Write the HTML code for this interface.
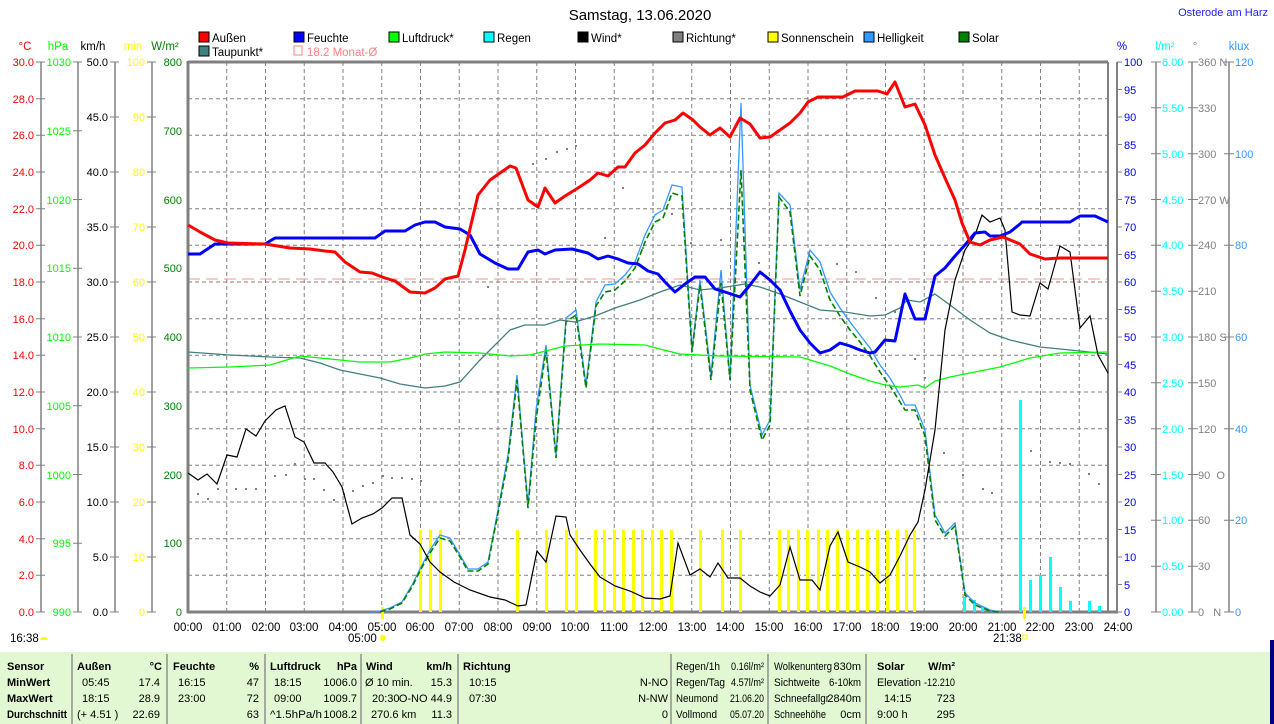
<!DOCTYPE html>
<html><head><meta charset="utf-8"><style>
body{margin:0;background:#fff;width:1274px;height:724px;overflow:hidden;font-family:"Liberation Sans",sans-serif}
svg{position:absolute;left:0;top:0}
</style></head><body>
<svg width="1274" height="724" viewBox="0 0 1274 724" font-family="Liberation Sans, sans-serif" font-size="11">
<text x="640" y="20" font-size="15" text-anchor="middle" fill="#000">Samstag, 13.06.2020</text>
<text x="1268" y="16" font-size="11" text-anchor="end" fill="#2020ff">Osterode am Harz</text>
<!-- legend -->
<g font-size="11.5">
<rect x="199" y="32" width="10" height="10" fill="#f00" stroke="#000"/><text x="212" y="42">Außen</text>
<rect x="294" y="32" width="10" height="10" fill="#00f" stroke="#000"/><text x="307" y="42">Feuchte</text>
<rect x="389" y="32" width="10" height="10" fill="#0f0" stroke="#000"/><text x="402" y="42">Luftdruck*</text>
<rect x="484" y="32" width="10" height="10" fill="#0ff" stroke="#000"/><text x="497" y="42">Regen</text>
<rect x="578" y="32" width="10" height="10" fill="#000" stroke="#000"/><text x="591" y="42">Wind*</text>
<rect x="673" y="32" width="10" height="10" fill="#808080" stroke="#000"/><text x="686" y="42">Richtung*</text>
<rect x="768" y="32" width="10" height="10" fill="#ff0" stroke="#000"/><text x="781" y="42">Sonnenschein</text>
<rect x="864" y="32" width="10" height="10" fill="#3399ff" stroke="#000"/><text x="877" y="42">Helligkeit</text>
<rect x="959" y="32" width="10" height="10" fill="#008000" stroke="#000"/><text x="972" y="42">Solar</text>
<rect x="199" y="46" width="10" height="10" fill="#408080" stroke="#000"/><text x="212" y="56">Taupunkt*</text>
<rect x="294" y="46" width="8" height="9" fill="none" stroke="#ff8080"/><text x="307" y="56" fill="#ff8080">18.2 Monat-Ø</text>
</g>
<!-- axis titles -->
<g font-size="11.5" text-anchor="middle">
<text x="25" y="50" fill="#f00">°C</text><text x="58" y="50" fill="#0f0">hPa</text><text x="93" y="50">km/h</text>
<text x="133" y="50" fill="#ff0">min</text><text x="165" y="50" fill="#008000">W/m²</text>
<text x="1122" y="50" fill="#00f">%</text><text x="1165" y="50" fill="#0ff">l/m²</text><text x="1195" y="50" fill="#808080">°</text><text x="1239" y="50" fill="#3399ff">klux</text>
</g>
<!-- grid -->
<g stroke="#808080" stroke-dasharray="4,3" stroke-width="1">
<path d="M226.75 62V612M265.5 62V612M304.25 62V612M343 62V612M381.75 62V612M420.5 62V612M459.25 62V612M498 62V612M536.75 62V612M575.5 62V612M614.25 62V612M653 62V612M691.75 62V612M730.5 62V612M769.25 62V612M808 62V612M846.75 62V612M885.5 62V612M924.25 62V612M963 62V612M1001.75 62V612M1040.5 62V612M1079.25 62V612"/>
<path d="M188 98.7H1108M188 135.3H1108M188 172H1108M188 208.7H1108M188 245.3H1108M188 282H1108M188 318.7H1108M188 355.3H1108M188 392H1108M188 428.7H1108M188 465.3H1108M188 502H1108M188 538.7H1108M188 575.3H1108"/>
</g>
<path d="M188 279H1108" stroke="#ff9090" stroke-dasharray="12,6"/>
<!-- axes lines -->
<g stroke="#808080" fill="none">
<path d="M188 61V613M187 612H1118M188 62H1108" stroke-width="3"/>
<path d="M1108 62V612" stroke-width="2"/>
<path d="M1117 62V612" stroke-width="2"/>
<path d="M41 62V612M78 62V612M115 62V612M152 62V612M1156 62V612M1192 62V612M1229 62V612" stroke-width="1.5"/>
</g>
<!-- left ticks -->
<g fill="#f00" text-anchor="end">
<text x="34" y="616">0.0</text><text x="34" y="579">2.0</text><text x="34" y="543">4.0</text><text x="34" y="506">6.0</text><text x="34" y="469">8.0</text><text x="34" y="433">10.0</text><text x="34" y="396">12.0</text><text x="34" y="359">14.0</text><text x="34" y="323">16.0</text><text x="34" y="286">18.0</text><text x="34" y="249">20.0</text><text x="34" y="213">22.0</text><text x="34" y="176">24.0</text><text x="34" y="139">26.0</text><text x="34" y="103">28.0</text><text x="34" y="66">30.0</text>
</g>
<path stroke="#808080" d="M36 612h9M36 575.3h9M36 538.7h9M36 502h9M36 465.3h9M36 428.7h9M36 392h9M36 355.3h9M36 318.7h9M36 282h9M36 245.3h9M36 208.7h9M36 172h9M36 135.3h9M36 98.7h9M36 62h9"/>
<g fill="#0f0" text-anchor="end">
<text x="71" y="616">990</text><text x="71" y="547">995</text><text x="71" y="479">1000</text><text x="71" y="410">1005</text><text x="71" y="341">1010</text><text x="71" y="272">1015</text><text x="71" y="204">1020</text><text x="71" y="135">1025</text><text x="71" y="66">1030</text>
</g>
<path stroke="#808080" d="M73 612h9M73 543.25h9M73 474.5h9M73 405.75h9M73 337h9M73 268.25h9M73 199.5h9M73 130.75h9M73 62h9"/>
<g fill="#000" text-anchor="end">
<text x="108" y="616">0.0</text><text x="108" y="561">5.0</text><text x="108" y="506">10.0</text><text x="108" y="451">15.0</text><text x="108" y="396">20.0</text><text x="108" y="341">25.0</text><text x="108" y="286">30.0</text><text x="108" y="231">35.0</text><text x="108" y="176">40.0</text><text x="108" y="121">45.0</text><text x="108" y="66">50.0</text>
</g>
<path stroke="#808080" d="M110 612h9M110 557h9M110 502h9M110 447h9M110 392h9M110 337h9M110 282h9M110 227h9M110 172h9M110 117h9M110 62h9M147 612h9M147 557h9M147 502h9M147 447h9M147 392h9M147 337h9M147 282h9M147 227h9M147 172h9M147 117h9M147 62h9"/>
<g fill="#ff0" text-anchor="end">
<text x="145" y="616">0</text><text x="145" y="561">10</text><text x="145" y="506">20</text><text x="145" y="451">30</text><text x="145" y="396">40</text><text x="145" y="341">50</text><text x="145" y="286">60</text><text x="145" y="231">70</text><text x="145" y="176">80</text><text x="145" y="121">90</text><text x="145" y="66">100</text>
</g>
<g fill="#008000" text-anchor="end">
<text x="182" y="616">0</text><text x="182" y="547">100</text><text x="182" y="479">200</text><text x="182" y="410">300</text><text x="182" y="341">400</text><text x="182" y="272">500</text><text x="182" y="204">600</text><text x="182" y="135">700</text><text x="182" y="66">800</text>
</g>
<!-- right ticks -->
<g fill="#00f">
<text x="1124" y="616">0</text><text x="1124" y="589">5</text><text x="1124" y="561">10</text><text x="1124" y="534">15</text><text x="1124" y="506">20</text><text x="1124" y="479">25</text><text x="1124" y="451">30</text><text x="1124" y="424">35</text><text x="1124" y="396">40</text><text x="1124" y="369">45</text><text x="1124" y="341">50</text><text x="1124" y="314">55</text><text x="1124" y="286">60</text><text x="1124" y="259">65</text><text x="1124" y="231">70</text><text x="1124" y="204">75</text><text x="1124" y="176">80</text><text x="1124" y="149">85</text><text x="1124" y="121">90</text><text x="1124" y="94">95</text><text x="1124" y="66">100</text>
</g>
<path stroke="#808080" d="M1117 612h5M1117 584.5h5M1117 557h5M1117 529.5h5M1117 502h5M1117 474.5h5M1117 447h5M1117 419.5h5M1117 392h5M1117 364.5h5M1117 337h5M1117 309.5h5M1117 282h5M1117 254.5h5M1117 227h5M1117 199.5h5M1117 172h5M1117 144.5h5M1117 117h5M1117 89.5h5M1117 62h5"/>
<g fill="#0ff">
<text x="1162" y="616">0.00</text><text x="1162" y="570">0.50</text><text x="1162" y="524">1.00</text><text x="1162" y="479">1.50</text><text x="1162" y="433">2.00</text><text x="1162" y="387">2.50</text><text x="1162" y="341">3.00</text><text x="1162" y="295">3.50</text><text x="1162" y="249">4.00</text><text x="1162" y="204">4.50</text><text x="1162" y="158">5.00</text><text x="1162" y="112">5.50</text><text x="1162" y="66">6.00</text>
</g>
<path stroke="#808080" d="M1151 612h10M1151 566.2h10M1151 520.3h10M1151 474.5h10M1151 428.7h10M1151 382.8h10M1151 337h10M1151 291.2h10M1151 245.3h10M1151 199.5h10M1151 153.7h10M1151 107.8h10M1151 62h10M1188 612h10M1188 566.2h10M1188 520.3h10M1188 474.5h10M1188 428.7h10M1188 382.8h10M1188 337h10M1188 291.2h10M1188 245.3h10M1188 199.5h10M1188 153.7h10M1188 107.8h10M1188 62h10M1224 612h10M1224 520.3h10M1224 428.7h10M1224 337h10M1224 245.3h10M1224 153.7h10M1224 62h10"/>
<g fill="#808080">
<text x="1198" y="616">0 &#160;&#160;N</text><text x="1198" y="570">30</text><text x="1198" y="524">60</text><text x="1198" y="479">90 &#160;O</text><text x="1198" y="433">120</text><text x="1198" y="387">150</text><text x="1198" y="341">180 S</text><text x="1198" y="295">210</text><text x="1198" y="249">240</text><text x="1198" y="204">270 W</text><text x="1198" y="158">300</text><text x="1198" y="112">330</text><text x="1198" y="66">360 N</text>
</g>
<g fill="#3399ff">
<text x="1235" y="616">0</text><text x="1235" y="524">20</text><text x="1235" y="433">40</text><text x="1235" y="341">60</text><text x="1235" y="249">80</text><text x="1235" y="158">100</text><text x="1235" y="66">120</text>
</g>
<!-- x labels -->
<g text-anchor="middle" font-size="11.5">
<text x="188" y="631">00:00</text><text x="227" y="631">01:00</text><text x="266" y="631">02:00</text><text x="304" y="631">03:00</text><text x="343" y="631">04:00</text><text x="382" y="631">05:00</text><text x="420" y="631">06:00</text><text x="459" y="631">07:00</text><text x="498" y="631">08:00</text><text x="537" y="631">09:00</text><text x="575" y="631">10:00</text><text x="614" y="631">11:00</text><text x="653" y="631">12:00</text><text x="692" y="631">13:00</text><text x="730" y="631">14:00</text><text x="769" y="631">15:00</text><text x="808" y="631">16:00</text><text x="847" y="631">17:00</text><text x="885" y="631">18:00</text><text x="924" y="631">19:00</text><text x="963" y="631">20:00</text><text x="1002" y="631">21:00</text><text x="1040" y="631">22:00</text><text x="1079" y="631">23:00</text><text x="1118" y="631">24:00</text>
</g>
<text x="10" y="642" font-size="11.5">16:38</text><path d="M40 640a4 3 0 0 1 8 0z" fill="#ff0"/>
<text x="348" y="642" font-size="11.5">05:00</text><circle cx="383" cy="638" r="3" fill="#ff0"/>
<text x="993" y="642" font-size="11.5">21:38</text><rect x="1023" y="635" width="4" height="4" fill="none" stroke="#ff0"/>
<!-- rain bars -->
<g fill="#0ff">
<rect x="963" y="597" width="3" height="15"/><rect x="973" y="600" width="3" height="12"/><rect x="981" y="607" width="3" height="5"/>
<rect x="1019" y="400" width="3" height="212"/><rect x="1029" y="580" width="3" height="32"/><rect x="1039" y="575" width="3" height="37"/><rect x="1049" y="557" width="3" height="55"/><rect x="1059" y="587" width="3" height="25"/><rect x="1069" y="601" width="3" height="11"/><rect x="1088" y="601" width="3" height="11"/><rect x="1098" y="606" width="3" height="6"/>
</g>
<!-- sunshine bars -->
<g fill="#ff0">
<rect x="419" y="530" width="3" height="82"/><rect x="429" y="530" width="3" height="82"/><rect x="439" y="530" width="3" height="82"/><rect x="516" y="530" width="3" height="82"/><rect x="545" y="530" width="3" height="82"/><rect x="565" y="530" width="3" height="82"/><rect x="575" y="530" width="3" height="82"/><rect x="594" y="530" width="3" height="82"/><rect x="603" y="530" width="3" height="82"/><rect x="613" y="530" width="3" height="82"/><rect x="622" y="530" width="3" height="82"/><rect x="632" y="530" width="3" height="82"/><rect x="641" y="530" width="3" height="82"/><rect x="651" y="530" width="3" height="82"/><rect x="660" y="530" width="3" height="82"/><rect x="670" y="530" width="3" height="82"/><rect x="699" y="530" width="3" height="82"/><rect x="721" y="530" width="3" height="82"/><rect x="739" y="530" width="3" height="82"/><rect x="778" y="530" width="3" height="82"/><rect x="787" y="530" width="3" height="82"/><rect x="797" y="530" width="3" height="82"/><rect x="806" y="530" width="3" height="82"/><rect x="817" y="530" width="3" height="82"/><rect x="826" y="530" width="3" height="82"/><rect x="836" y="530" width="3" height="82"/><rect x="846" y="530" width="3" height="82"/><rect x="856" y="530" width="3" height="82"/><rect x="866" y="530" width="3" height="82"/><rect x="876" y="530" width="3" height="82"/><rect x="886" y="530" width="3" height="82"/><rect x="896" y="530" width="3" height="82"/><rect x="905" y="530" width="3" height="82"/><rect x="913" y="530" width="3" height="82"/>
<rect x="381" y="607" width="3" height="12"/><rect x="1023" y="607" width="3" height="12"/>
</g>
<!-- Richtung dots -->
<g fill="#808080">
<rect x="197" y="493" width="2" height="2"/><rect x="207" y="498" width="2" height="2"/><rect x="217" y="488" width="2" height="2"/><rect x="235" y="488" width="2" height="2"/><rect x="245" y="488" width="2" height="2"/><rect x="255" y="488" width="2" height="2"/><rect x="274" y="475" width="2" height="2"/><rect x="285" y="474" width="2" height="2"/><rect x="294" y="463" width="2" height="2"/><rect x="304" y="478" width="2" height="2"/><rect x="313" y="478" width="2" height="2"/><rect x="323" y="489" width="2" height="2"/><rect x="333" y="499" width="2" height="2"/><rect x="343" y="493" width="2" height="2"/><rect x="352" y="490" width="2" height="2"/><rect x="362" y="485" width="2" height="2"/><rect x="372" y="482" width="2" height="2"/><rect x="382" y="475" width="2" height="2"/><rect x="391" y="477" width="2" height="2"/><rect x="401" y="477" width="2" height="2"/><rect x="411" y="478" width="2" height="2"/><rect x="420" y="480" width="2" height="2"/>
<rect x="487" y="286" width="2" height="2"/><rect x="532" y="163" width="2" height="2"/><rect x="545" y="158" width="2" height="2"/><rect x="556" y="151" width="2" height="2"/><rect x="566" y="148" width="2" height="2"/><rect x="575" y="145" width="2" height="2"/><rect x="622" y="187" width="2" height="2"/><rect x="604" y="237" width="2" height="2"/><rect x="642" y="247" width="2" height="2"/><rect x="671" y="213" width="2" height="2"/><rect x="690" y="242" width="2" height="2"/><rect x="720" y="239" width="2" height="2"/><rect x="758" y="262" width="2" height="2"/><rect x="836" y="263" width="2" height="2"/><rect x="855" y="271" width="2" height="2"/><rect x="875" y="297" width="2" height="2"/><rect x="894" y="311" width="2" height="2"/><rect x="914" y="358" width="2" height="2"/><rect x="924" y="377" width="2" height="2"/><rect x="943" y="452" width="2" height="2"/><rect x="962" y="474" width="2" height="2"/><rect x="982" y="488" width="2" height="2"/><rect x="991" y="492" width="2" height="2"/><rect x="1030" y="450" width="2" height="2"/><rect x="1049" y="461" width="2" height="2"/><rect x="1059" y="462" width="2" height="2"/><rect x="1069" y="463" width="2" height="2"/><rect x="1088" y="473" width="2" height="2"/><rect x="1098" y="483" width="2" height="2"/>
</g>
<!-- Helligkeit & Solar -->
<polyline fill="none" stroke="#3399ff" stroke-width="1.3" points="370,612 380,611 390,608 402,602 412,585 421,567 430,550 440,535 450,538 460,555 468,569 478,569 488,562 498,510 508,455 517,375 528,505 536,410 546,345 556,455 566,318 576,310 586,385 596,302 605,285 615,284 625,275 635,262 645,235 655,215 663,210 672,185 682,187 692,350 700,280 711,375 721,270 730,380 741,103 750,385 762,435 770,420 779,193 790,205 800,290 810,250 820,262 830,292 840,308 850,322 860,335 870,348 880,365 890,378 900,395 905,405 915,405 925,430 935,515 945,533 955,523 965,593 975,603 990,610 1000,612"/>
<polyline fill="none" stroke="#008000" stroke-width="1.6" stroke-dasharray="6,3" points="380,612 390,609 402,603 412,587 421,569 430,553 440,538 450,541 460,557 468,571 478,571 488,564 498,513 508,460 517,380 528,508 536,420 546,350 556,458 566,322 576,315 586,388 596,306 605,292 615,290 625,281 635,268 645,242 655,222 663,218 672,193 682,196 692,352 700,285 711,380 721,283 730,380 741,170 750,390 762,440 770,425 779,197 790,212 800,296 810,256 820,270 830,300 840,316 850,330 860,342 870,356 880,372 890,386 900,402 905,410 915,410 925,436 935,520 945,536 955,526 965,595 975,605 990,611 1000,612"/>
<!-- Taupunkt -->
<polyline fill="none" stroke="#408080" stroke-width="1.3" points="188,352 230,355 270,357 300,358 320,363 340,370 360,374 380,378 400,384 425,388 445,386 460,382 480,360 495,345 510,330 525,325 545,325 560,320 575,322 595,316 615,308 640,300 660,292 680,285 700,290 720,288 745,284 760,287 780,294 800,302 820,310 845,312 870,316 885,315 900,308 907,300 920,302 935,294 950,305 970,320 990,333 1010,340 1040,347 1070,350 1108,354"/>
<!-- Luftdruck -->
<polyline fill="none" stroke="#00ff00" stroke-width="1.3" points="188,368 230,367 270,365 300,356 320,358 340,360 360,362 390,362 410,358 425,354 445,352 480,353 510,356 530,355 565,346 600,344 645,345 660,349 680,354 720,356 800,357 830,366 850,374 870,381 885,385 900,387 918,385 925,388 935,381 950,377 975,372 1000,367 1030,358 1060,353 1108,352"/>
<!-- Wind -->
<polyline fill="none" stroke="#000" stroke-width="1.2" points="188,473 198,480 207,474 217,484 227,455 237,457 246,429 256,436 265,421 276,410 285,406 295,437 304,442 314,463 325,463 333,472 342,487 352,524 362,518 373,514 382,508 392,498 402,498 410,535 420,544 430,562 440,572 454,582 470,590 490,597 505,600 518,606 526,605 537,551 546,562 556,516 566,517 570,535 580,550 590,564 600,577 615,586 630,591 645,598 660,599 670,596 678,543 690,575 700,569 710,577 718,563 728,578 740,578 750,586 760,592 770,596 780,585 790,547 800,580 812,580 820,590 830,546 838,532 848,562 860,567 870,572 880,583 890,575 900,556 910,535 918,522 925,490 935,430 945,330 955,280 965,250 975,235 982,215 990,222 1000,218 1005,230 1012,312 1020,315 1030,316 1040,283 1048,289 1055,264 1060,246 1070,252 1080,328 1090,316 1098,355 1108,373"/>
<!-- Feuchte -->
<polyline fill="none" stroke="#0000ff" stroke-width="3" stroke-linejoin="round" points="188,254 200,254 215,244 230,244 265,244 275,238 375,238 385,231 405,231 415,225 425,222 435,222 445,227 460,229 470,235 480,254 495,263 508,269 518,269 528,252 538,250 545,254 555,250 572,249 588,253 598,259 608,256 618,259 628,263 638,264 648,271 658,274 665,282 675,292 685,284 695,277 705,277 715,289 725,292 740,297 750,285 760,272 770,280 780,290 790,311 800,330 810,343 820,353 830,350 840,343 850,346 860,350 870,353 875,352 885,340 895,341 905,294 915,319 925,319 935,276 945,268 955,256 965,245 975,233 985,232 990,236 1000,236 1010,232 1020,224 1022,222 1070,222 1080,216 1095,216 1108,222"/>
<!-- Außen -->
<polyline fill="none" stroke="#ff0000" stroke-width="3" stroke-linejoin="round" points="188,225 200,232 215,240 228,243 265,244 290,248 310,249 325,251 335,252 345,262 360,272 372,273 385,278 395,281 410,292 425,293 435,288 445,279 458,276 465,250 478,195 490,180 500,173 510,166 516,168 528,200 538,207 545,188 555,203 565,196 578,188 590,180 598,173 608,176 618,167 625,167 635,153 645,145 655,133 665,123 675,120 683,113 693,120 700,127 710,135 720,128 730,137 740,118 750,124 760,138 770,137 780,130 790,123 800,113 808,102 818,97 843,97 855,91 878,91 887,94 895,82 905,107 915,104 925,125 935,155 945,178 955,200 962,223 970,242 980,245 990,240 1003,237 1020,244 1030,254 1045,259 1060,258 1108,258"/>
<!-- table -->
<rect x="0" y="652" width="1271" height="72" fill="#e2f8d2"/>
<rect x="1270" y="640" width="4" height="84" fill="#000080"/>
<g stroke="#909090" stroke-width="1.5"><path d="M72 654V724M167 654V724M265 654V724M361 654V724M458 654V724M671 654V724M768 654V724M866 654V724"/></g>
<g font-size="11" fill="#000">
<g font-weight="bold"><text x="7" y="670">Sensor</text><text x="7" y="686">MinWert</text><text x="7" y="702">MaxWert</text><text x="7" y="718" textLength="60" lengthAdjust="spacingAndGlyphs">Durchschnitt</text>
<text x="77" y="670">Außen</text><text x="162" y="670" text-anchor="end">°C</text><text x="173" y="670">Feuchte</text><text x="259" y="670" text-anchor="end">%</text><text x="270" y="670">Luftdruck</text><text x="357" y="670" text-anchor="end">hPa</text><text x="366" y="670">Wind</text><text x="452" y="670" text-anchor="end">km/h</text><text x="463" y="670">Richtung</text><text x="877" y="670">Solar</text><text x="955" y="670" text-anchor="end">W/m²</text></g>
<text x="82" y="686">05:45</text><text x="160" y="686" text-anchor="end">17.4</text><text x="82" y="702">18:15</text><text x="160" y="702" text-anchor="end">28.9</text><text x="77" y="718">(+ 4.51 )</text><text x="160" y="718" text-anchor="end">22.69</text>
<text x="178" y="686">16:15</text><text x="259" y="686" text-anchor="end">47</text><text x="178" y="702">23:00</text><text x="259" y="702" text-anchor="end">72</text><text x="259" y="718" text-anchor="end">63</text>
<text x="274" y="686">18:15</text><text x="357" y="686" text-anchor="end">1006.0</text><text x="274" y="702">09:00</text><text x="357" y="702" text-anchor="end">1009.7</text><text x="270" y="718" textLength="52" lengthAdjust="spacingAndGlyphs">^1.5hPa/h</text><text x="357" y="718" text-anchor="end">1008.2</text>
<text x="365" y="686">Ø 10 min.</text><text x="452" y="686" text-anchor="end">15.3</text><text x="372" y="702">20:30</text><text x="452" y="702" text-anchor="end">O-NO 44.9</text><text x="371" y="718">270.6 km</text><text x="452" y="718" text-anchor="end">11.3</text>
<text x="469" y="686">10:15</text><text x="668" y="686" text-anchor="end">N-NO</text><text x="469" y="702">07:30</text><text x="668" y="702" text-anchor="end">N-NW</text><text x="668" y="718" text-anchor="end">0</text>
<text x="676" y="670" textLength="44" lengthAdjust="spacingAndGlyphs">Regen/1h</text><text x="731" y="670" textLength="33" lengthAdjust="spacingAndGlyphs">0.16l/m²</text><text x="676" y="686" textLength="49" lengthAdjust="spacingAndGlyphs">Regen/Tag</text><text x="731" y="686" textLength="33" lengthAdjust="spacingAndGlyphs">4.57l/m²</text><text x="676" y="702" textLength="42" lengthAdjust="spacingAndGlyphs">Neumond</text><text x="730" y="702" textLength="34" lengthAdjust="spacingAndGlyphs">21.06.20</text><text x="676" y="718" textLength="41" lengthAdjust="spacingAndGlyphs">Vollmond</text><text x="730" y="718" textLength="34" lengthAdjust="spacingAndGlyphs">05.07.20</text>
<text x="774" y="670" textLength="58" lengthAdjust="spacingAndGlyphs">Wolkenunterg</text><text x="861" y="670" text-anchor="end">830m</text><text x="774" y="686" textLength="46" lengthAdjust="spacingAndGlyphs">Sichtweite</text><text x="861" y="686" text-anchor="end" textLength="32" lengthAdjust="spacingAndGlyphs">6-10km</text><text x="774" y="702" textLength="55" lengthAdjust="spacingAndGlyphs">Schneefallgr</text><text x="861" y="702" text-anchor="end">2840m</text><text x="774" y="718" textLength="52" lengthAdjust="spacingAndGlyphs">Schneehöhe</text><text x="861" y="718" text-anchor="end">0cm</text>
<text x="877" y="686" textLength="44" lengthAdjust="spacingAndGlyphs">Elevation</text><text x="924" y="686" textLength="31" lengthAdjust="spacingAndGlyphs">-12.210</text><text x="884" y="702">14:15</text><text x="955" y="702" text-anchor="end">723</text><text x="877" y="718">9:00 h</text><text x="955" y="718" text-anchor="end">295</text>
</g>
</svg>
</body></html>
